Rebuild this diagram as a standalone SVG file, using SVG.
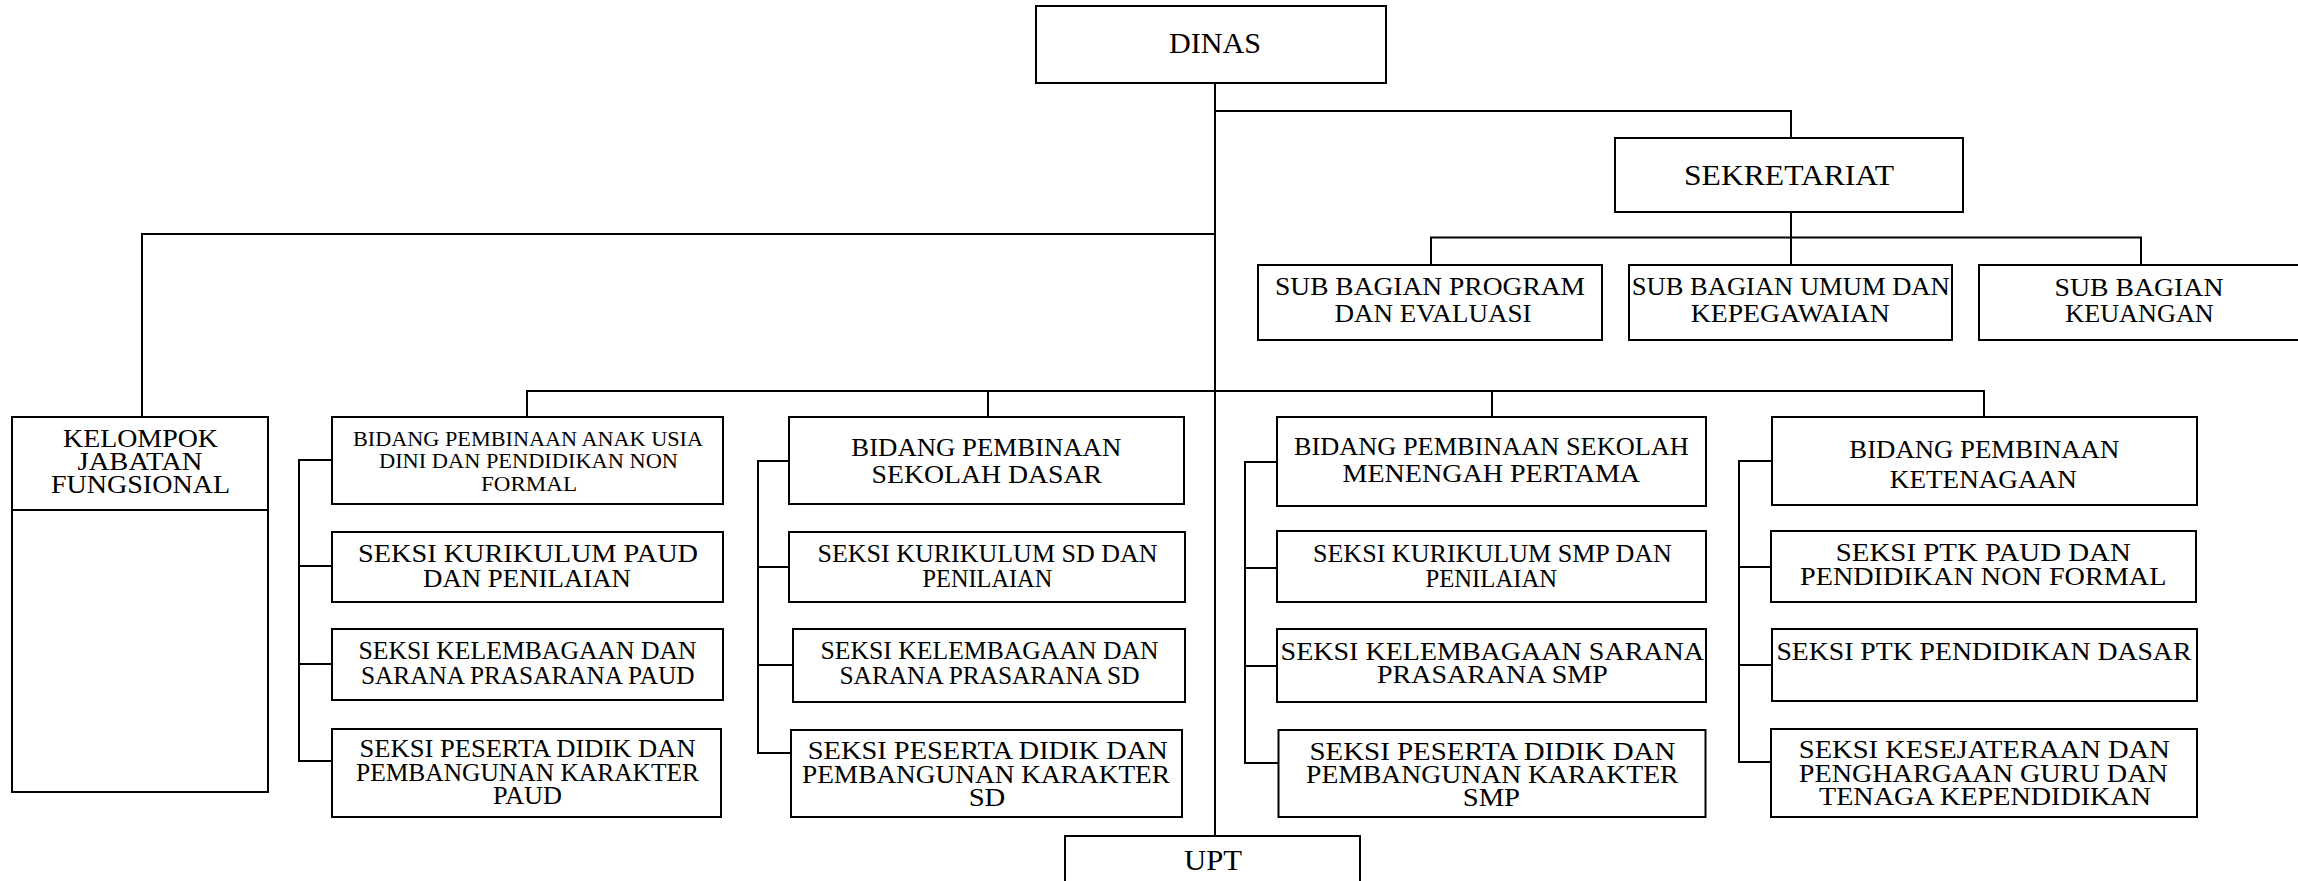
<svg xmlns="http://www.w3.org/2000/svg" width="2298" height="881" viewBox="0 0 2298 881">
<style>
.b{fill:#fff;stroke:#000;stroke-width:2}
.c{fill:none;stroke:#000;stroke-width:2}
text{font-family:"Liberation Serif","Times New Roman",serif;font-size:25px;text-anchor:middle;fill:#000}
.l{font-size:29px}
.s{font-size:21px}
</style>
<rect width="2298" height="881" fill="#fff"/>
<g id="connectors">
<path class="c" d="M1215,83 V836"/>
<path class="c" d="M1215,111 H1791 V138"/>
<path class="c" d="M1791,212 V265 M1431,265 V237.5 H2141 V265"/>
<path class="c" d="M1215,234 H142 V417"/>
<path class="c" d="M527,417 V391 H1984 V417 M988,391 V417 M1492,391 V417"/>
<path class="c" d="M332,460 H299 V761 H332 M299,566 H332 M299,664 H332"/>
<path class="c" d="M789,461 H758 V753 H791 M758,567 H789 M758,665 H793"/>
<path class="c" d="M1277,462 H1245 V763 H1278 M1245,568 H1277 M1245,666 H1277"/>
<path class="c" d="M1772,461 H1739 V762 H1771 M1739,567 H1771 M1739,665 H1772"/>
</g>
<g id="dinas"><rect class="b" x="1036" y="6" width="350" height="77"/><text class="l" x="1215" y="53" textLength="92" lengthAdjust="spacingAndGlyphs">DINAS</text></g>
<g id="sekretariat"><rect class="b" x="1615" y="138" width="348" height="74"/><text class="l" x="1789" y="185" textLength="210" lengthAdjust="spacingAndGlyphs">SEKRETARIAT</text></g>
<g id="sub-program"><rect class="b" x="1258" y="265" width="344" height="75"/><text x="1430" y="295" textLength="310" lengthAdjust="spacingAndGlyphs">SUB BAGIAN PROGRAM</text><text x="1433" y="321.7" textLength="197" lengthAdjust="spacingAndGlyphs">DAN EVALUASI</text></g>
<g id="sub-umum"><rect class="b" x="1629" y="265" width="323" height="75"/><text x="1790.7" y="295" textLength="318" lengthAdjust="spacingAndGlyphs">SUB BAGIAN UMUM DAN</text><text x="1790.3" y="321.7" textLength="199" lengthAdjust="spacingAndGlyphs">KEPEGAWAIAN</text></g>
<g id="sub-keuangan"><rect class="b" x="1979" y="265" width="330" height="75"/><text x="2139" y="295.7" textLength="169" lengthAdjust="spacingAndGlyphs">SUB BAGIAN</text><text x="2139.5" y="321.7" textLength="148.5" lengthAdjust="spacingAndGlyphs">KEUANGAN</text></g>
<g id="kelompok"><rect class="b" x="12" y="417" width="256" height="375"/><path class="c" d="M12,510 H268"/><text x="140.5" y="446.7" textLength="155" lengthAdjust="spacingAndGlyphs">KELOMPOK</text><text x="140" y="470" textLength="125" lengthAdjust="spacingAndGlyphs">JABATAN</text><text x="140.5" y="492.7" textLength="179" lengthAdjust="spacingAndGlyphs">FUNGSIONAL</text></g>
<g id="bidang-paud"><rect class="b" x="332" y="417" width="391" height="87"/><text class="s" x="528" y="445.7" textLength="350" lengthAdjust="spacingAndGlyphs">BIDANG PEMBINAAN ANAK USIA</text><text class="s" x="528.5" y="468" textLength="299" lengthAdjust="spacingAndGlyphs">DINI DAN PENDIDIKAN NON</text><text class="s" x="529" y="490.7" textLength="96" lengthAdjust="spacingAndGlyphs">FORMAL</text></g>
<g id="seksi-kurikulum-paud"><rect class="b" x="332" y="532" width="391" height="70"/><text x="528" y="562.3" textLength="340" lengthAdjust="spacingAndGlyphs">SEKSI KURIKULUM PAUD</text><text x="527" y="586.7" textLength="208" lengthAdjust="spacingAndGlyphs">DAN PENILAIAN</text></g>
<g id="seksi-kelembagaan-paud"><rect class="b" x="332" y="629" width="391" height="71"/><text x="527.6" y="659" textLength="338" lengthAdjust="spacingAndGlyphs">SEKSI KELEMBAGAAN DAN</text><text x="527.8" y="684" textLength="333.6" lengthAdjust="spacingAndGlyphs">SARANA PRASARANA PAUD</text></g>
<g id="seksi-peserta-paud"><rect class="b" x="332" y="729" width="389" height="88"/><text x="527.6" y="757.3" textLength="336" lengthAdjust="spacingAndGlyphs">SEKSI PESERTA DIDIK DAN</text><text x="527.5" y="781" textLength="343" lengthAdjust="spacingAndGlyphs">PEMBANGUNAN KARAKTER</text><text x="527.5" y="804.3" textLength="69" lengthAdjust="spacingAndGlyphs">PAUD</text></g>
<g id="bidang-sd"><rect class="b" x="789" y="417" width="395" height="87"/><text x="986.3" y="456" textLength="270" lengthAdjust="spacingAndGlyphs">BIDANG PEMBINAAN</text><text x="986.8" y="483.3" textLength="230.6" lengthAdjust="spacingAndGlyphs">SEKOLAH DASAR</text></g>
<g id="seksi-kurikulum-sd"><rect class="b" x="789" y="532" width="396" height="70"/><text x="987.5" y="562.3" textLength="340" lengthAdjust="spacingAndGlyphs">SEKSI KURIKULUM SD DAN</text><text x="987.4" y="586.7" textLength="129.6" lengthAdjust="spacingAndGlyphs">PENILAIAN</text></g>
<g id="seksi-kelembagaan-sd"><rect class="b" x="793" y="629" width="392" height="73"/><text x="989.5" y="659.3" textLength="338" lengthAdjust="spacingAndGlyphs">SEKSI KELEMBAGAAN DAN</text><text x="989.5" y="684" textLength="300" lengthAdjust="spacingAndGlyphs">SARANA PRASARANA SD</text></g>
<g id="seksi-peserta-sd"><rect class="b" x="791" y="730" width="391" height="87"/><text x="987.8" y="759.3" textLength="360" lengthAdjust="spacingAndGlyphs">SEKSI PESERTA DIDIK DAN</text><text x="986" y="782.7" textLength="368" lengthAdjust="spacingAndGlyphs">PEMBANGUNAN KARAKTER</text><text x="987" y="806" textLength="36.7" lengthAdjust="spacingAndGlyphs">SD</text></g>
<g id="bidang-smp"><rect class="b" x="1277" y="417" width="429" height="89"/><text x="1491.4" y="455" textLength="394.7" lengthAdjust="spacingAndGlyphs">BIDANG PEMBINAAN SEKOLAH</text><text x="1491.3" y="482.3" textLength="297.6" lengthAdjust="spacingAndGlyphs">MENENGAH PERTAMA</text></g>
<g id="seksi-kurikulum-smp"><rect class="b" x="1277" y="531" width="429" height="71"/><text x="1492.4" y="562.3" textLength="359" lengthAdjust="spacingAndGlyphs">SEKSI KURIKULUM SMP DAN</text><text x="1491.3" y="586.7" textLength="131.6" lengthAdjust="spacingAndGlyphs">PENILAIAN</text></g>
<g id="seksi-kelembagaan-smp"><rect class="b" x="1277" y="629" width="429" height="73"/><text x="1492.3" y="660" textLength="423.5" lengthAdjust="spacingAndGlyphs">SEKSI KELEMBAGAAN SARANA</text><text x="1492.4" y="683.3" textLength="230.7" lengthAdjust="spacingAndGlyphs">PRASARANA SMP</text></g>
<g id="seksi-peserta-smp"><rect class="b" x="1278.5" y="730" width="427" height="87"/><text x="1492.4" y="760" textLength="365.7" lengthAdjust="spacingAndGlyphs">SEKSI PESERTA DIDIK DAN</text><text x="1492.3" y="782.7" textLength="372.5" lengthAdjust="spacingAndGlyphs">PEMBANGUNAN KARAKTER</text><text x="1491.4" y="806" textLength="57.3" lengthAdjust="spacingAndGlyphs">SMP</text></g>
<g id="bidang-ketenagaan"><rect class="b" x="1772" y="417" width="425" height="88"/><text x="1984.3" y="458.3" textLength="270" lengthAdjust="spacingAndGlyphs">BIDANG PEMBINAAN</text><text x="1983.3" y="488.3" textLength="187" lengthAdjust="spacingAndGlyphs">KETENAGAAN</text></g>
<g id="seksi-ptk-paud"><rect class="b" x="1771" y="531" width="425" height="71"/><text x="1983.3" y="560.7" textLength="295" lengthAdjust="spacingAndGlyphs">SEKSI PTK PAUD DAN</text><text x="1983.2" y="585" textLength="366.4" lengthAdjust="spacingAndGlyphs">PENDIDIKAN NON FORMAL</text></g>
<g id="seksi-ptk-dasar"><rect class="b" x="1772" y="629" width="425" height="72"/><text x="1983.9" y="660" textLength="415" lengthAdjust="spacingAndGlyphs">SEKSI PTK PENDIDIKAN DASAR</text></g>
<g id="seksi-kesejateraan"><rect class="b" x="1771" y="729" width="426" height="88"/><text x="1984.3" y="758.3" textLength="371" lengthAdjust="spacingAndGlyphs">SEKSI KESEJATERAAN DAN</text><text x="1983.3" y="781.7" textLength="369" lengthAdjust="spacingAndGlyphs">PENGHARGAAN GURU DAN</text><text x="1985" y="805" textLength="332" lengthAdjust="spacingAndGlyphs">TENAGA KEPENDIDIKAN</text></g>
<g id="upt"><rect class="b" x="1065" y="836" width="295" height="60"/><text class="l" x="1213" y="870" textLength="58" lengthAdjust="spacingAndGlyphs">UPT</text></g>
</svg>
